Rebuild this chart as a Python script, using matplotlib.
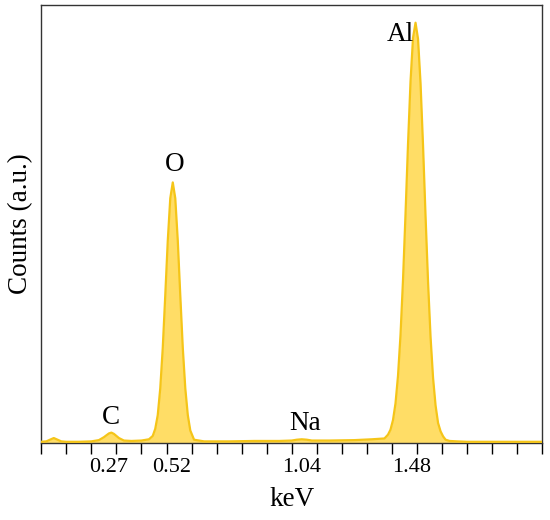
import matplotlib
matplotlib.use("Agg")
import matplotlib.pyplot as plt
from matplotlib.ticker import MultipleLocator

# EDS spectrum (keV, arbitrary counts)
energy = [0.00, 0.02, 0.035, 0.05, 0.065, 0.08, 0.10, 0.15, 0.20, 0.23, 0.25, 0.27,
          0.28, 0.29, 0.31, 0.33, 0.36, 0.40, 0.43, 0.445, 0.455, 0.465, 0.475, 0.485,
          0.495, 0.505, 0.515, 0.525, 0.535, 0.545, 0.555, 0.565, 0.575, 0.585, 0.595,
          0.61, 0.65, 0.75, 0.85, 0.95, 1.00, 1.02, 1.04, 1.06, 1.08, 1.15, 1.25, 1.32,
          1.37, 1.384, 1.394, 1.404, 1.414, 1.424, 1.434, 1.444, 1.454, 1.464, 1.474,
          1.484, 1.494, 1.504, 1.514, 1.524, 1.534, 1.544, 1.554, 1.564, 1.574, 1.584,
          1.594, 1.604, 1.614, 1.63, 1.66, 1.70, 1.80, 1.90, 2.00]
counts = [3, 4, 8, 12, 8, 4, 3, 3, 4, 7, 14, 23,
          25, 22, 12, 6, 5, 6, 9, 17, 34, 67, 131, 228,
          354, 485, 587, 625, 587, 485, 354, 228, 131, 67, 30,
          8, 4, 4, 5, 5, 6, 8, 9, 8, 6, 6, 7, 9,
          11, 20, 32, 55, 95, 161, 259, 391, 549, 717, 867,
          972, 1008, 969, 863, 713, 544, 386, 254, 156, 90, 48,
          28, 16, 8, 5, 4, 3, 3, 3, 3]

tick_values = [0.27, 0.52, 1.04, 1.48]
tick_labels = ["0.27", "0.52", "1.04", "1.48"]

peak_names = ["C", "O", "Na", "Al"]
peak_x = [0.28, 0.531, 1.054, 1.433]
peak_y = [62, 668, 48, 980]

plt.rcParams["font.family"] = ["Liberation Serif", "DejaVu Serif"]

fig = plt.figure(figsize=(5.5, 5.2), dpi=100)
ax = fig.add_axes([0.075, 0.148, 0.911, 0.842])

ax.fill_between(energy, counts, 0, color="#FFDD66", linewidth=0, zorder=2)
ax.plot(energy, counts, color="#F5C518", linewidth=1.6, zorder=3)

for name, x, y in zip(peak_names, peak_x, peak_y):
    ax.text(x, y, name, ha="center", va="center", fontsize=19.5)

ax.set_xlim(0, 2.0)
ax.set_ylim(0, 1050)
ax.set_yticks([])
ax.set_xticks(tick_values)
ax.set_xticklabels(tick_labels)
ax.xaxis.set_minor_locator(MultipleLocator(0.1))
ax.tick_params(axis="x", which="major", length=0, labelsize=16, pad=11)
ax.tick_params(axis="x", which="minor", length=8, width=1, direction="out")

for sp in ax.spines.values():
    sp.set_color("#333333")
    sp.set_linewidth(1)

ax.set_xlabel("keV", fontsize=19.5, labelpad=7)
ax.set_ylabel("Counts (a.u.)", fontsize=19.5, labelpad=6)

fig.savefig("out.png", dpi=100)
